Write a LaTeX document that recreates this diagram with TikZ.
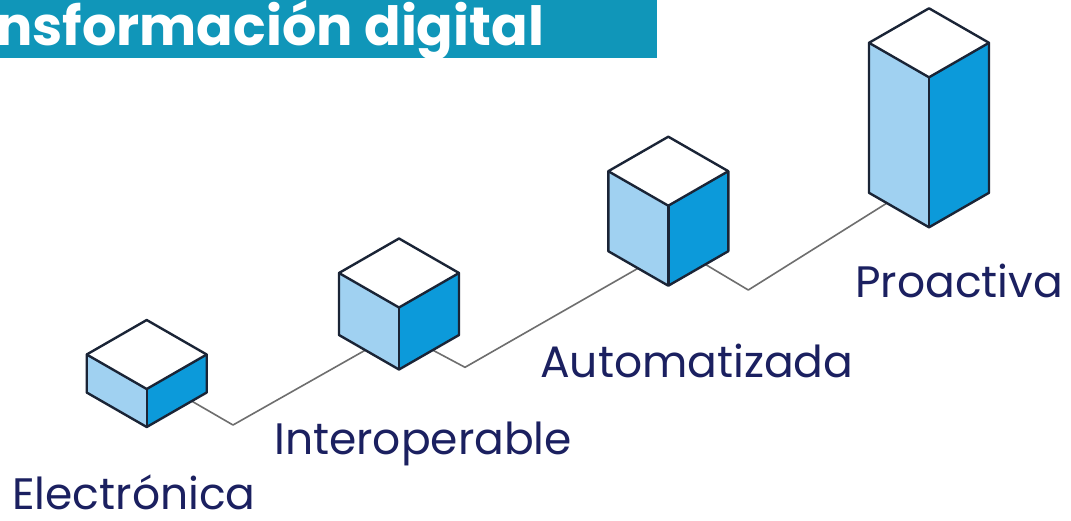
\documentclass[tikz,border=0pt]{standalone}
\usepackage{fontspec}
\setmainfont{Poppins}
\newfontfamily\titlefont{Poppins}[UprightFont=* Bold]
\definecolor{teal1}{HTML}{1096B9}
\definecolor{navy}{HTML}{1B2060}
\definecolor{edge}{HTML}{1A2436}
\definecolor{lightf}{HTML}{A0D1F1}
\definecolor{darkf}{HTML}{0C9ADA}
\definecolor{conn}{HTML}{6E6E6E}
\tikzset{
  face/.style={draw=edge, line width=2.4pt, line join=round},
  connector/.style={draw=conn, line width=1.6pt, line join=round},
  label/.style={anchor=base west, inner sep=0pt, text=navy, font=\fontsize{44}{52}\selectfont}
}
\newcommand{\isocube}[3]{%
  % #1 = cx, #2 = top y, #3 = side height
  \fill[lightf] (#1-60,#2+34.5) -- (#1,#2+69) -- (#1,#2+69+#3) -- (#1-60,#2+34.5+#3) -- cycle;
  \fill[darkf] (#1+60,#2+34.5) -- (#1,#2+69) -- (#1,#2+69+#3) -- (#1+60,#2+34.5+#3) -- cycle;
  \fill[white] (#1,#2) -- (#1+60,#2+34.5) -- (#1,#2+69) -- (#1-60,#2+34.5) -- cycle;
  \draw[face] (#1,#2) -- (#1+60,#2+34.5) -- (#1+60,#2+34.5+#3) -- (#1,#2+69+#3) -- (#1-60,#2+34.5+#3) -- (#1-60,#2+34.5) -- cycle;
  \draw[face] (#1-60,#2+34.5) -- (#1,#2+69) -- (#1+60,#2+34.5);
  \draw[face] (#1,#2+69) -- (#1,#2+69+#3);
}
\begin{document}
\begin{tikzpicture}[x=1pt,y=-1pt]
\useasboundingbox (0,0) rectangle (1071,520);
\fill[white] (0,0) rectangle (1071,520);
% title bar
\fill[teal1] (0,0) rectangle (657,58);
\node[anchor=base west, inner sep=0pt, text=white, font=\titlefont\fontsize{54}{64}\selectfont] (title) at (-4,45) {nsformación digital};
% connector points
\coordinate (a1) at (185,397.2);
\coordinate (b1) at (233,425);
\coordinate (a2) at (370,347.5);
\coordinate (c2) at (425,346);
\coordinate (b2) at (465,367.3);
\coordinate (a3) at (645,264.3);
\coordinate (c3) at (698,260);
\coordinate (b3) at (748.3,290);
\coordinate (a4) at (903,193);
\draw[connector] (a1) -- (b1) -- (a2);
\draw[connector] (c2) -- (b2) -- (a3);
\draw[connector] (c3) -- (b3) -- (a4);
% cubes
\isocube{146.7}{320}{38}
\isocube{399}{238.5}{62}
\isocube{668.3}{136.7}{80}
\isocube{929}{8.3}{150}
% labels
\node[label] (l1) at (12,509) {Electrónica};
\node[label] (l2) at (274,454) {Interoperable};
\node[label] (l3) at (540,377) {Automatizada};
\node[label] (l4) at (855,297) {Proactiva};
\end{tikzpicture}
\end{document}
